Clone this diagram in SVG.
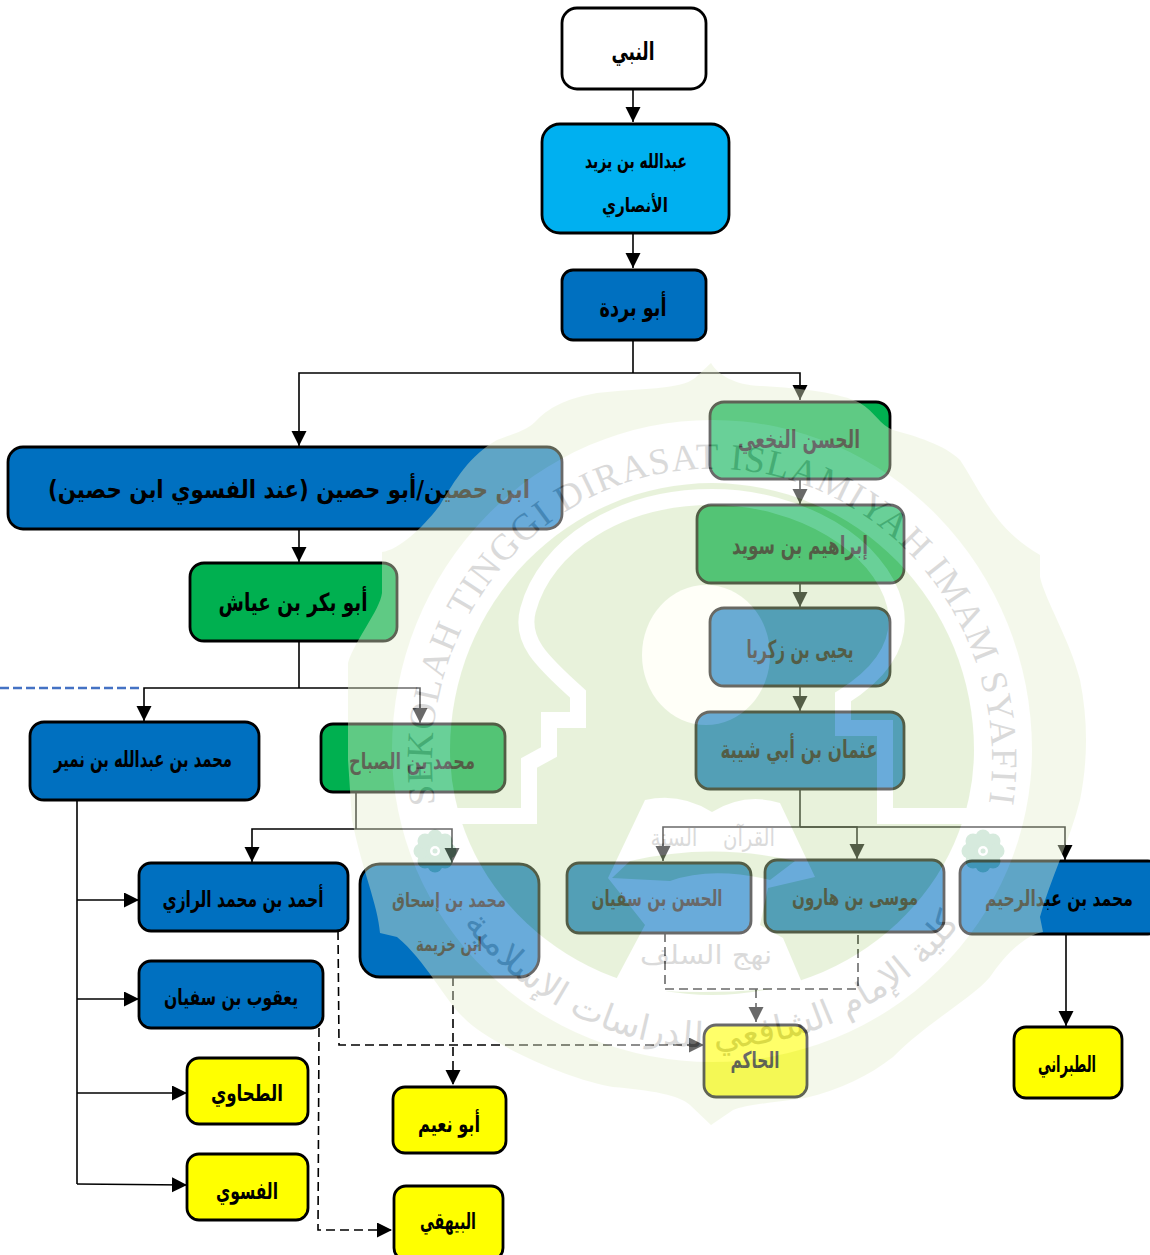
<svg xmlns="http://www.w3.org/2000/svg" width="1150" height="1255" viewBox="0 0 1150 1255">
<style>
.n{stroke:#000;stroke-width:2.8}
.w{fill:#fff}.b{fill:#0070C0}.c{fill:#00B0F0}.g{fill:#00B050}.y{fill:#FFFF00}
.t{font-family:"DejaVu Sans",sans-serif;font-weight:bold;font-size:25px;text-anchor:middle;direction:rtl;fill:#000}
.s1{font-size:23px}.s2{font-size:22px}.s3{font-size:20px}
.l{fill:none;stroke:#000;stroke-width:1.6}
.d{stroke-dasharray:9 5}
.a{marker-end:url(#ah)}
.wm{font-family:"DejaVu Sans",sans-serif;fill:#a8a8a8;direction:rtl;text-anchor:middle}
</style>
<defs>
<marker id="ah" markerUnits="userSpaceOnUse" markerWidth="16" markerHeight="16" refX="15" refY="7.5" orient="auto"><path d="M0,0L15,7.5L0,15Z" fill="#000"/></marker>
<path id="arcL" d="M440,830A280,292 0 1 1 984,830"/>
<path id="arcA" d="M442,890A310,310 0 0 0 982,890"/>
<g id="fl"><circle cx="0" cy="-14" r="7.5"/><circle cx="10" cy="-10" r="7.5"/><circle cx="14" cy="0" r="7.5"/><circle cx="10" cy="10" r="7.5"/><circle cx="0" cy="14" r="7.5"/><circle cx="-10" cy="10" r="7.5"/><circle cx="-14" cy="0" r="7.5"/><circle cx="-10" cy="-10" r="7.5"/><circle r="9"/><circle r="5" fill="#fff"/><circle r="2.5"/></g>
</defs>
<g id="connectors">
<path class="l a" d="M633,89V122"/>
<path class="l a" d="M633,233V268"/>
<path class="l" d="M633,340V373"/>
<path class="l a" d="M633,373H299V446"/>
<path class="l a" d="M633,373H800V400"/>
<path class="l a" d="M299,529V562"/>
<path class="l" d="M299,641V688"/>
<path class="l a" d="M299,688H144V721"/>
<path class="l a" d="M299,688H420V723"/>
<path d="M0,688H139" fill="none" stroke="#4472C4" stroke-width="2.4" stroke-dasharray="9 4"/>
<path class="l a" d="M800,479V504"/>
<path class="l a" d="M800,583V607"/>
<path class="l a" d="M800,686V711"/>
<path class="l" d="M800,789V827"/>
<path class="l a" d="M800,827H663V861"/>
<path class="l a" d="M800,827H857V859"/>
<path class="l a" d="M800,827H1065V860"/>
<path class="l" d="M356,792V829"/>
<path class="l a" d="M356,829H252V862"/>
<path class="l a" d="M356,829H452V863"/>
<path class="l" d="M77,800V1184"/>
<path class="l a" d="M77,900H139"/>
<path class="l a" d="M77,999H139"/>
<path class="l a" d="M77,1093H187"/>
<path class="l a" d="M77,1184L187,1185"/>
<path class="l a" d="M1066,934V1026"/>
<path class="l d a" d="M338,931L339,1045H704"/>
<path class="l d a" d="M453,977V1085"/>
<path class="l d a" d="M319,1028L318,1230H392"/>
<path class="l d" d="M665,933V989H858V932"/>
<path class="l d a" d="M756,989V1022"/>
</g>
<g id="n1"><rect class="n w" x="562" y="8" width="144" height="81" rx="15"/><text class="t" x="633" y="60" textLength="43" lengthAdjust="spacingAndGlyphs">النبي</text></g>
<g id="n2"><rect class="n c" x="542" y="124" width="187" height="109" rx="18"/><text class="t s3" x="636" y="168" textLength="102" lengthAdjust="spacingAndGlyphs">عبدالله بن يزيد</text><text class="t s3" x="635" y="212" textLength="66" lengthAdjust="spacingAndGlyphs">الأنصاري</text></g>
<g id="n3"><rect class="n b" x="562" y="270" width="144" height="70" rx="11"/><text class="t" x="633" y="316" textLength="67" lengthAdjust="spacingAndGlyphs">أبو بردة</text></g>
<g id="n4"><rect class="n b" x="8" y="447" width="554" height="82" rx="15"/><text class="t" x="289" y="498" textLength="482" lengthAdjust="spacingAndGlyphs">ابن حصين/أبو حصين (عند الفسوي ابن حصين)</text></g>
<g id="n5"><rect class="n g" x="190" y="563" width="207" height="78" rx="14"/><text class="t" x="293" y="611" textLength="149" lengthAdjust="spacingAndGlyphs">أبو بكر بن عياش</text></g>
<g id="n6"><rect class="n g" x="710" y="402" width="180" height="77" rx="14"/><text class="t" x="799" y="448" textLength="122" lengthAdjust="spacingAndGlyphs">الحسن النخعي</text></g>
<g id="n7"><rect class="n g" x="697" y="505" width="207" height="78" rx="14"/><text class="t" x="800" y="554" textLength="136" lengthAdjust="spacingAndGlyphs">إبراهيم بن سويد</text></g>
<g id="n8"><rect class="n b" x="710" y="608" width="180" height="78" rx="14"/><text class="t" x="800" y="658" textLength="107" lengthAdjust="spacingAndGlyphs">يحيى بن زكريا</text></g>
<g id="n9"><rect class="n b" x="696" y="712" width="208" height="77" rx="14"/><text class="t" x="799" y="758" textLength="157" lengthAdjust="spacingAndGlyphs">عثمان بن أبي شيبة</text></g>
<g id="n10"><rect class="n b" x="30" y="722" width="229" height="78" rx="14"/><text class="t s1" x="143" y="767" textLength="178" lengthAdjust="spacingAndGlyphs">محمد بن عبدالله بن نمير</text></g>
<g id="n11"><rect class="n g" x="321" y="724" width="184" height="68" rx="12"/><text class="t s1" x="412" y="769" textLength="126" lengthAdjust="spacingAndGlyphs">محمد بن الصباح</text></g>
<g id="n12"><rect class="n b" x="139" y="863" width="209" height="68" rx="12"/><text class="t s1" x="243" y="907" textLength="161" lengthAdjust="spacingAndGlyphs">أحمد بن محمد الرازي</text></g>
<g id="n13"><rect class="n b" x="360" y="864" width="179" height="113" rx="20"/><text class="t s3" x="449" y="907" textLength="114" lengthAdjust="spacingAndGlyphs">محمد بن إسحاق</text><text class="t s3" x="449" y="951" textLength="66" lengthAdjust="spacingAndGlyphs">ابن خزيمة</text></g>
<g id="n14"><rect class="n b" x="567" y="863" width="184" height="70" rx="12"/><text class="t s2" x="657" y="906" textLength="131" lengthAdjust="spacingAndGlyphs">الحسن بن سفيان</text></g>
<g id="n15"><rect class="n b" x="765" y="860" width="179" height="72" rx="12"/><text class="t s2" x="855" y="905" textLength="126" lengthAdjust="spacingAndGlyphs">موسى بن هارون</text></g>
<g id="n16"><rect class="n b" x="960" y="861" width="200" height="73" rx="12"/><text class="t s2" x="1059" y="906" textLength="148" lengthAdjust="spacingAndGlyphs">محمد بن عبدالرحيم</text></g>
<g id="n17"><rect class="n b" x="139" y="961" width="184" height="67" rx="12"/><text class="t s2" x="231" y="1005" textLength="134" lengthAdjust="spacingAndGlyphs">يعقوب بن سفيان</text></g>
<g id="n18"><rect class="n y" x="187" y="1058" width="121" height="66" rx="12"/><text class="t s1" x="247" y="1101" textLength="72" lengthAdjust="spacingAndGlyphs">الطحاوي</text></g>
<g id="n19"><rect class="n y" x="187" y="1154" width="121" height="66" rx="12"/><text class="t s1" x="247" y="1199" textLength="62" lengthAdjust="spacingAndGlyphs">الفسوي</text></g>
<g id="n20"><rect class="n y" x="393" y="1087" width="113" height="66" rx="12"/><text class="t s1" x="449" y="1132" textLength="62" lengthAdjust="spacingAndGlyphs">أبو نعيم</text></g>
<g id="n21"><rect class="n y" x="394" y="1186" width="109" height="74" rx="12"/><text class="t s1" x="448" y="1229" textLength="56" lengthAdjust="spacingAndGlyphs">البيهقي</text></g>
<g id="n22"><rect class="n y" x="704" y="1025" width="103" height="72" rx="12"/><text class="t s1" x="755" y="1068" textLength="49" lengthAdjust="spacingAndGlyphs">الحاكم</text></g>
<g id="n23"><rect class="n y" x="1014" y="1027" width="108" height="71" rx="12"/><text class="t s1" x="1067" y="1072" textLength="58" lengthAdjust="spacingAndGlyphs">الطبراني</text></g>
<g id="watermark" opacity=".41">
<path fill="#e6f0cf" d="M711,363C718,375 735,385 760,386C800,388 840,393 860,403C875,412 880,425 893,430C915,436 945,445 960,460C980,490 995,530 1040,555L1040,577C1045,600 1070,640 1080,680C1088,720 1088,760 1080,800C1070,840 1050,880 1040,917L1043,932C1025,935 1005,955 990,977C970,1000 930,1020 893,1057C870,1075 840,1090 805,1098C775,1102 745,1105 733,1110L711,1125L690,1105C680,1095 650,1090 613,1087C570,1080 490,1045 463,1017C445,1000 425,960 397,937L380,933C378,905 362,870 352,820L348,760L348,663C355,640 380,610 382,593L382,552C400,550 425,525 440,505C455,480 470,455 497,440C520,432 530,428 537,420C552,405 570,398 597,393C640,388 680,390 695,378Z"/>
<path fill="#fff" d="M392,750A320,330 0 0 1 1032,750A320,312 0 0 1 392,750Z"/>
<path fill="#c9e2aa" d="M450,750A262,267 0 0 1 974,750A262,245 0 0 1 450,750Z"/>
<path d="M443,816H529V763L549,752V720H578V694C540,660 520,640 528,610C545,545 620,497 712,497C800,497 880,545 895,605C905,650 870,680 843,697V728H885V816H977" fill="none" stroke="#fff" stroke-width="16"/>
<ellipse cx="706" cy="655" rx="64" ry="70" fill="#fffff0"/>
<path fill="#fff" d="M645,800Q680,792 712,812Q745,792 780,803L815,877L768,888L760,925L783,938L803,985Q712,998 612,987L645,925L608,878Z"/>
<path fill="#c9e2aa" d="M630,861Q712,842 795,861L770,880Q712,866 670,881L612,878Z"/>
<use href="#fl" x="435" y="851" fill="#9ccdaf"/>
<use href="#fl" x="983" y="851" fill="#9ccdaf"/>
<text font-family="'Liberation Serif',serif" font-size="37" fill="#a8a8a8" letter-spacing="1.2"><textPath href="#arcL" startOffset="50%" text-anchor="middle">SEKOLAH TINGGI DIRASAT ISLAMIYAH IMAM SYAFI'I</textPath></text>
<text class="wm" font-size="35"><textPath href="#arcA" startOffset="50%" text-anchor="middle">كلية الإمام الشافعي للدراسات الإسلامية</textPath></text>
<text class="wm" x="749" y="846" font-size="24" textLength="52" lengthAdjust="spacingAndGlyphs">القرآن</text>
<text class="wm" x="674" y="846" font-size="24" textLength="47" lengthAdjust="spacingAndGlyphs">السنة</text>
<text class="wm" x="706" y="964" font-size="26" textLength="132" lengthAdjust="spacingAndGlyphs">نهج السلف</text>
</g>
</svg>
